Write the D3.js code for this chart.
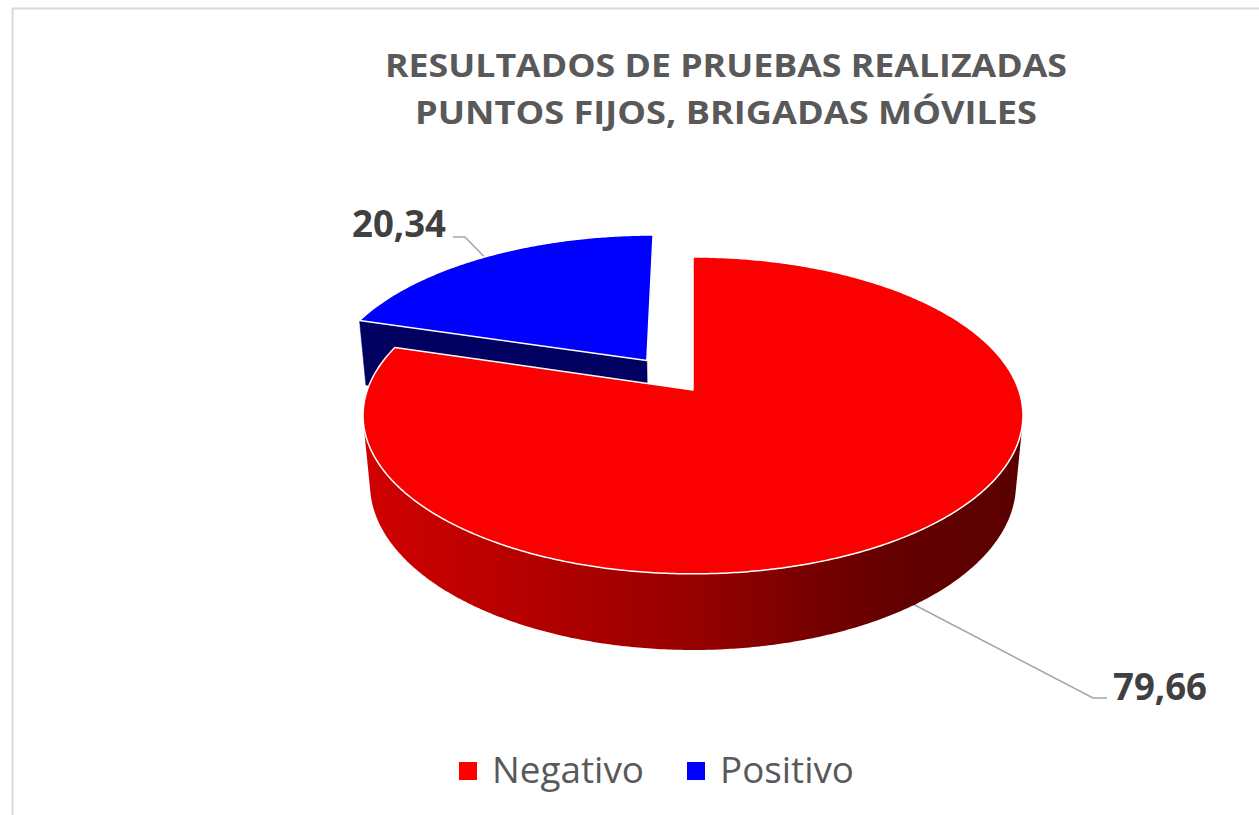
<!DOCTYPE html>
<html>
<head>
<meta charset="utf-8">
<script src="https://cdn.jsdelivr.net/npm/d3@7"></script>
<style>
  html, body { margin: 0; padding: 0; background: #ffffff; }
  svg { display: block; }
</style>
</head>
<body>
<svg id="chart" width="1259" height="815"></svg>
<script>
// ---------------- data ----------------
const categories = ["Negativo", "Positivo"];
const values = [79.66, 20.34];
const valueLabels = ["79,66", "20,34"];
const sliceColors = ["#fb0000", "#0000ff"];
const legendColors = ["#ff0000", "#0000ff"];
const explode = [0, 0.245];
const titleLines = ["RESULTADOS DE PRUEBAS REALIZADAS", "PUNTOS FIJOS, BRIGADAS MÓVILES"];

// ---------------- setup ----------------
const svg = d3.select("#chart");
const W = 1259, H = 815;
const defs = svg.append("defs");

// chart frame
svg.append("path")
  .attr("d", `M12.5,${H} V8.5 H${W}`)
  .attr("fill", "none")
  .attr("stroke", "#d9d9d9")
  .attr("stroke-width", 2);

// title
const title = svg.append("g");
const titleWidths = [682, 622];
titleLines.forEach((t, i) => {
  title.append("text")
    .attr("x", 726)
    .attr("y", 77 + i * 47)
    .attr("text-anchor", "middle")
    .attr("font-family", "'Open Sans', 'Noto Sans', sans-serif")
    .attr("font-weight", 700)
    .attr("font-size", 33)
    .attr("fill", "#595959")
    .attr("textLength", titleWidths[i])
    .attr("lengthAdjust", "spacingAndGlyphs")
    .text(t);
});

// ---------------- 3D projection ----------------
const D = 5.49, F = 1788, sinT = 0.474, cosT = 0.88, depth = 0.242;
const cx = 693, cy = 390;
function proj(u, v, z) {
  const yc = v * sinT + z * cosT;
  const zc = D + v * cosT - z * sinT;
  return [cx + F * u / zc, cy - F * yc / zc];
}
const cam = [0, -D * cosT, D * sinT];
const viewDir = [0, -cosT, sinT];

const pie = d3.pie().sort(null).value(d => d);
const arcs = pie(values).map((a, i) => {
  const mid = (a.startAngle + a.endAngle) / 2;
  return {
    i, s: a.startAngle, e: a.endAngle, mid,
    off: [explode[i] * Math.sin(mid), explode[i] * Math.cos(mid)]
  };
});

const line = d3.line();
function shade(color, f) {
  const c = d3.rgb(color);
  return d3.rgb(c.r * f, c.g * f, c.b * f).formatHex();
}

// ---------------- leader lines ----------------
const leaders = svg.append("g");
const labelSpecs = [
  { elbow: [1093, 698], end: [1107, 698], tx: 1113, ty: 700, z: -depth * 0.95 },
  { elbow: [465, 237], end: [453, 237], tx: 352, ty: 237, z: 0 }
];
arcs.forEach(a => {
  const spec = labelSpecs[a.i];
  const start = proj(a.off[0] + Math.sin(a.mid), a.off[1] + Math.cos(a.mid), spec.z);
  leaders.append("path")
    .attr("d", line([start, spec.elbow, spec.end]))
    .attr("fill", "none")
    .attr("stroke", "#a6a6a6")
    .attr("stroke-width", 1.5);
});

// ---------------- pie ----------------
const pieG = svg.append("g");
const order = arcs.slice().sort((a, b) => b.off[1] - a.off[1]); // far first

order.forEach(a => {
  const g = pieG.append("g");
  const base = sliceColors[a.i];
  const ptAt = (phi, z) => proj(a.off[0] + Math.sin(phi), a.off[1] + Math.cos(phi), z);
  const apex = z => proj(a.off[0], a.off[1], z);
  const N = Math.max(8, Math.ceil((a.e - a.s) / (Math.PI / 360)));

  // radial faces (visible only when clearly facing the viewer)
  [[a.s, -1], [a.e, 1]].forEach(([phi, sgn]) => {
    const n = [sgn * Math.cos(phi), -sgn * Math.sin(phi), 0];
    const dot = n[0] * viewDir[0] + n[1] * viewDir[1] + n[2] * viewDir[2];
    if (dot > 0.02) {
      const col = shade(base, 0.38);
      g.append("path")
        .attr("d", line([apex(0), ptAt(phi, 0), ptAt(phi, -depth), apex(-depth)]) + "Z")
        .attr("fill", col)
        .attr("stroke", col)
        .attr("stroke-width", 0.5);
    }
  });

  // curved outer side: collect runs of visible segments
  const runs = [];
  let cur = null;
  for (let k = 0; k < N; k++) {
    const p0 = a.s + (a.e - a.s) * k / N;
    const p1 = a.s + (a.e - a.s) * (k + 1) / N;
    const pm = (p0 + p1) / 2;
    const n = [Math.sin(pm), Math.cos(pm), 0];
    const p = [a.off[0] + n[0], a.off[1] + n[1], -depth / 2];
    const vis = n[0] * (cam[0] - p[0]) + n[1] * (cam[1] - p[1]) + n[2] * (cam[2] - p[2]) > 0;
    if (vis) {
      if (!cur) { cur = [p0]; runs.push(cur); }
      cur.push(p1);
    } else cur = null;
  }
  runs.forEach((run, r) => {
    const topArc = run.map(phi => ptAt(phi, 0));
    const botArc = run.map(phi => ptAt(phi, -depth)).reverse();
    const xs = topArc.map(p => p[0]);
    const x0 = proj(a.off[0] - 1, a.off[1], 0)[0];
    const x1 = proj(a.off[0] + 1, a.off[1], 0)[0];
    const gid = `side-${a.i}-${r}`;
    const grad = defs.append("linearGradient")
      .attr("id", gid)
      .attr("gradientUnits", "userSpaceOnUse")
      .attr("x1", x0).attr("y1", 0).attr("x2", x1).attr("y2", 0);
    const stops = [[0, 0.83], [0.5, 0.6], [0.8, 0.4], [1, 0.36]];
    stops.forEach(([o, f]) => {
      grad.append("stop").attr("offset", o).attr("stop-color", shade(base, f));
    });
    g.append("path")
      .attr("d", line(topArc.concat(botArc)) + "Z")
      .attr("fill", `url(#${gid})`);
  });

  // top face
  const topPts = [apex(0)];
  for (let k = 0; k <= N; k++) {
    topPts.push(ptAt(a.s + (a.e - a.s) * k / N, 0));
  }
  g.append("path")
    .attr("d", line(topPts) + "Z")
    .attr("fill", base)
    .attr("stroke", "#ffffff")
    .attr("stroke-width", 1.5)
    .attr("stroke-linejoin", "round");
});

// ---------------- value labels ----------------
arcs.forEach(a => {
  const spec = labelSpecs[a.i];
  svg.append("text")
    .attr("x", spec.tx)
    .attr("y", spec.ty)
    .attr("font-family", "'Open Sans', 'Noto Sans', sans-serif")
    .attr("font-weight", 700)
    .attr("font-size", 37)
    .attr("fill", "#404040")
    .attr("textLength", 94)
    .attr("lengthAdjust", "spacingAndGlyphs")
    .text(valueLabels[a.i]);
});

// ---------------- legend ----------------
const legend = svg.append("g");
const legendX = [459, 687];
const legendTextW = [152, 134];
categories.forEach((c, i) => {
  legend.append("rect")
    .attr("x", legendX[i])
    .attr("y", 762)
    .attr("width", 18)
    .attr("height", 18)
    .attr("fill", legendColors[i]);
  legend.append("text")
    .attr("x", legendX[i] + 33)
    .attr("y", 783)
    .attr("font-family", "'Open Sans', 'Noto Sans', sans-serif")
    .attr("font-size", 36)
    .attr("fill", "#595959")
    .attr("textLength", legendTextW[i])
    .attr("lengthAdjust", "spacingAndGlyphs")
    .text(c);
});
</script>
</body>
</html>
